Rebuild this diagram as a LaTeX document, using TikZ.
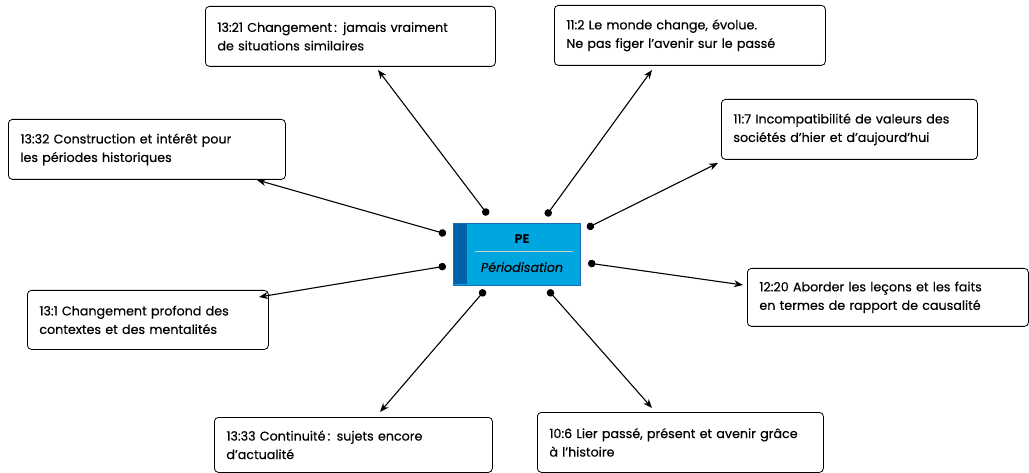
\documentclass[tikz,border=0pt]{standalone}
\usepackage{fontspec}
\setmainfont{Poppins}
\newfontfamily\notefont{Poppins}[FakeBold=0.35]
\usetikzlibrary{arrows.meta}
\definecolor{peblue}{HTML}{00A6E0}
\definecolor{pedark}{HTML}{0062A8}
\definecolor{peedge}{HTML}{1C6FB5}
\tikzset{
  notebox/.style={draw, thick, rounded corners=4pt, anchor=north west, align=left,
    inner xsep=12pt, font=\notefont\fontsize{12.7}{18.5}\selectfont},
  link/.style={line width=1.1pt, {Circle[length=7.5pt]}-{Stealth[length=9pt,width=7pt]}}
}
\begin{document}
\begin{tikzpicture}[x=1pt,y=-1pt]
            \useasboundingbox (0,0) rectangle (1029,473);
            %central code box
            \node[draw=peedge, fill=peblue, minimum width=127pt, minimum height=62pt, anchor=north west, inner sep=0pt] (pe) at (453,223) {};
            \fill[pedark] (454,224) rectangle (467,284);
            \draw[gray!40, line width=0.8pt] (475,251) -- (573,251);
            \node[font=\fontsize{12.7}{14}\selectfont\bfseries] (pelabel) at (522,239) {PE};
            \node[font=\notefont\fontsize{12.7}{14}\selectfont\itshape] (pename) at (522,267) {Périodisation};
            %the quotation boxes
            \node[notebox, minimum width=290pt, minimum height=60pt, text width=266pt] (b1) at (205,6)
              {13:21 Changement\,: jamais vraiment\\de situations similaires};
            \node[notebox, minimum width=271pt, minimum height=60pt, text width=247pt] (b2) at (554,5)
              {11:2 Le monde change, évolue.\\Ne pas figer l’avenir sur le passé};
            \node[notebox, minimum width=277pt, minimum height=60pt, text width=253pt] (b3) at (8,119)
              {13:32 Construction et intérêt pour\\les périodes historiques};
            \node[notebox, minimum width=256pt, minimum height=60pt, text width=232pt] (b4) at (721,99)
              {11:7 Incompatibilité de valeurs des\\sociétés d’hier et d’aujourd’hui};
            \node[notebox, minimum width=239pt, minimum height=59pt, text width=217pt] (b5) at (27,290)
              {13:1 Changement profond des\\contextes et des mentalités};
            \node[notebox, minimum width=281pt, minimum height=58pt, text width=257pt] (b6) at (747,268)
              {12:20 Aborder les leçons et les faits\\en termes de rapport de causalité};
            \node[notebox, minimum width=278pt, minimum height=55pt, text width=254pt] (b7) at (214,417)
              {13:33 Continuité\,: sujets encore\\d’actualité};
            \node[notebox, minimum width=286pt, minimum height=60pt, text width=262pt] (b8) at (537,412)
              {10:6 Lier passé, présent et avenir grâce\\à l’histoire};
            %start points on the code box and arrow ends
            \coordinate (d1) at (488,215); \coordinate (t1) at (378,70);
            \coordinate (d2) at (546,216); \coordinate (t2) at (652,70);
            \coordinate (d3) at (446,234); \coordinate (t3) at (257,180);
            \coordinate (d4) at (587,228); \coordinate (t4) at (718,163);
            \coordinate (d5) at (446,266); \coordinate (t5) at (259,297);
            \coordinate (d6) at (588,263); \coordinate (t6) at (743,285);
            \coordinate (d7) at (485,290); \coordinate (t7) at (380,412);
            \coordinate (d8) at (548,290); \coordinate (t8) at (652,408);
            \foreach \i in {1,...,8}
            \draw[link] (d\i) -- (t\i);
\end{tikzpicture}
\end{document}
